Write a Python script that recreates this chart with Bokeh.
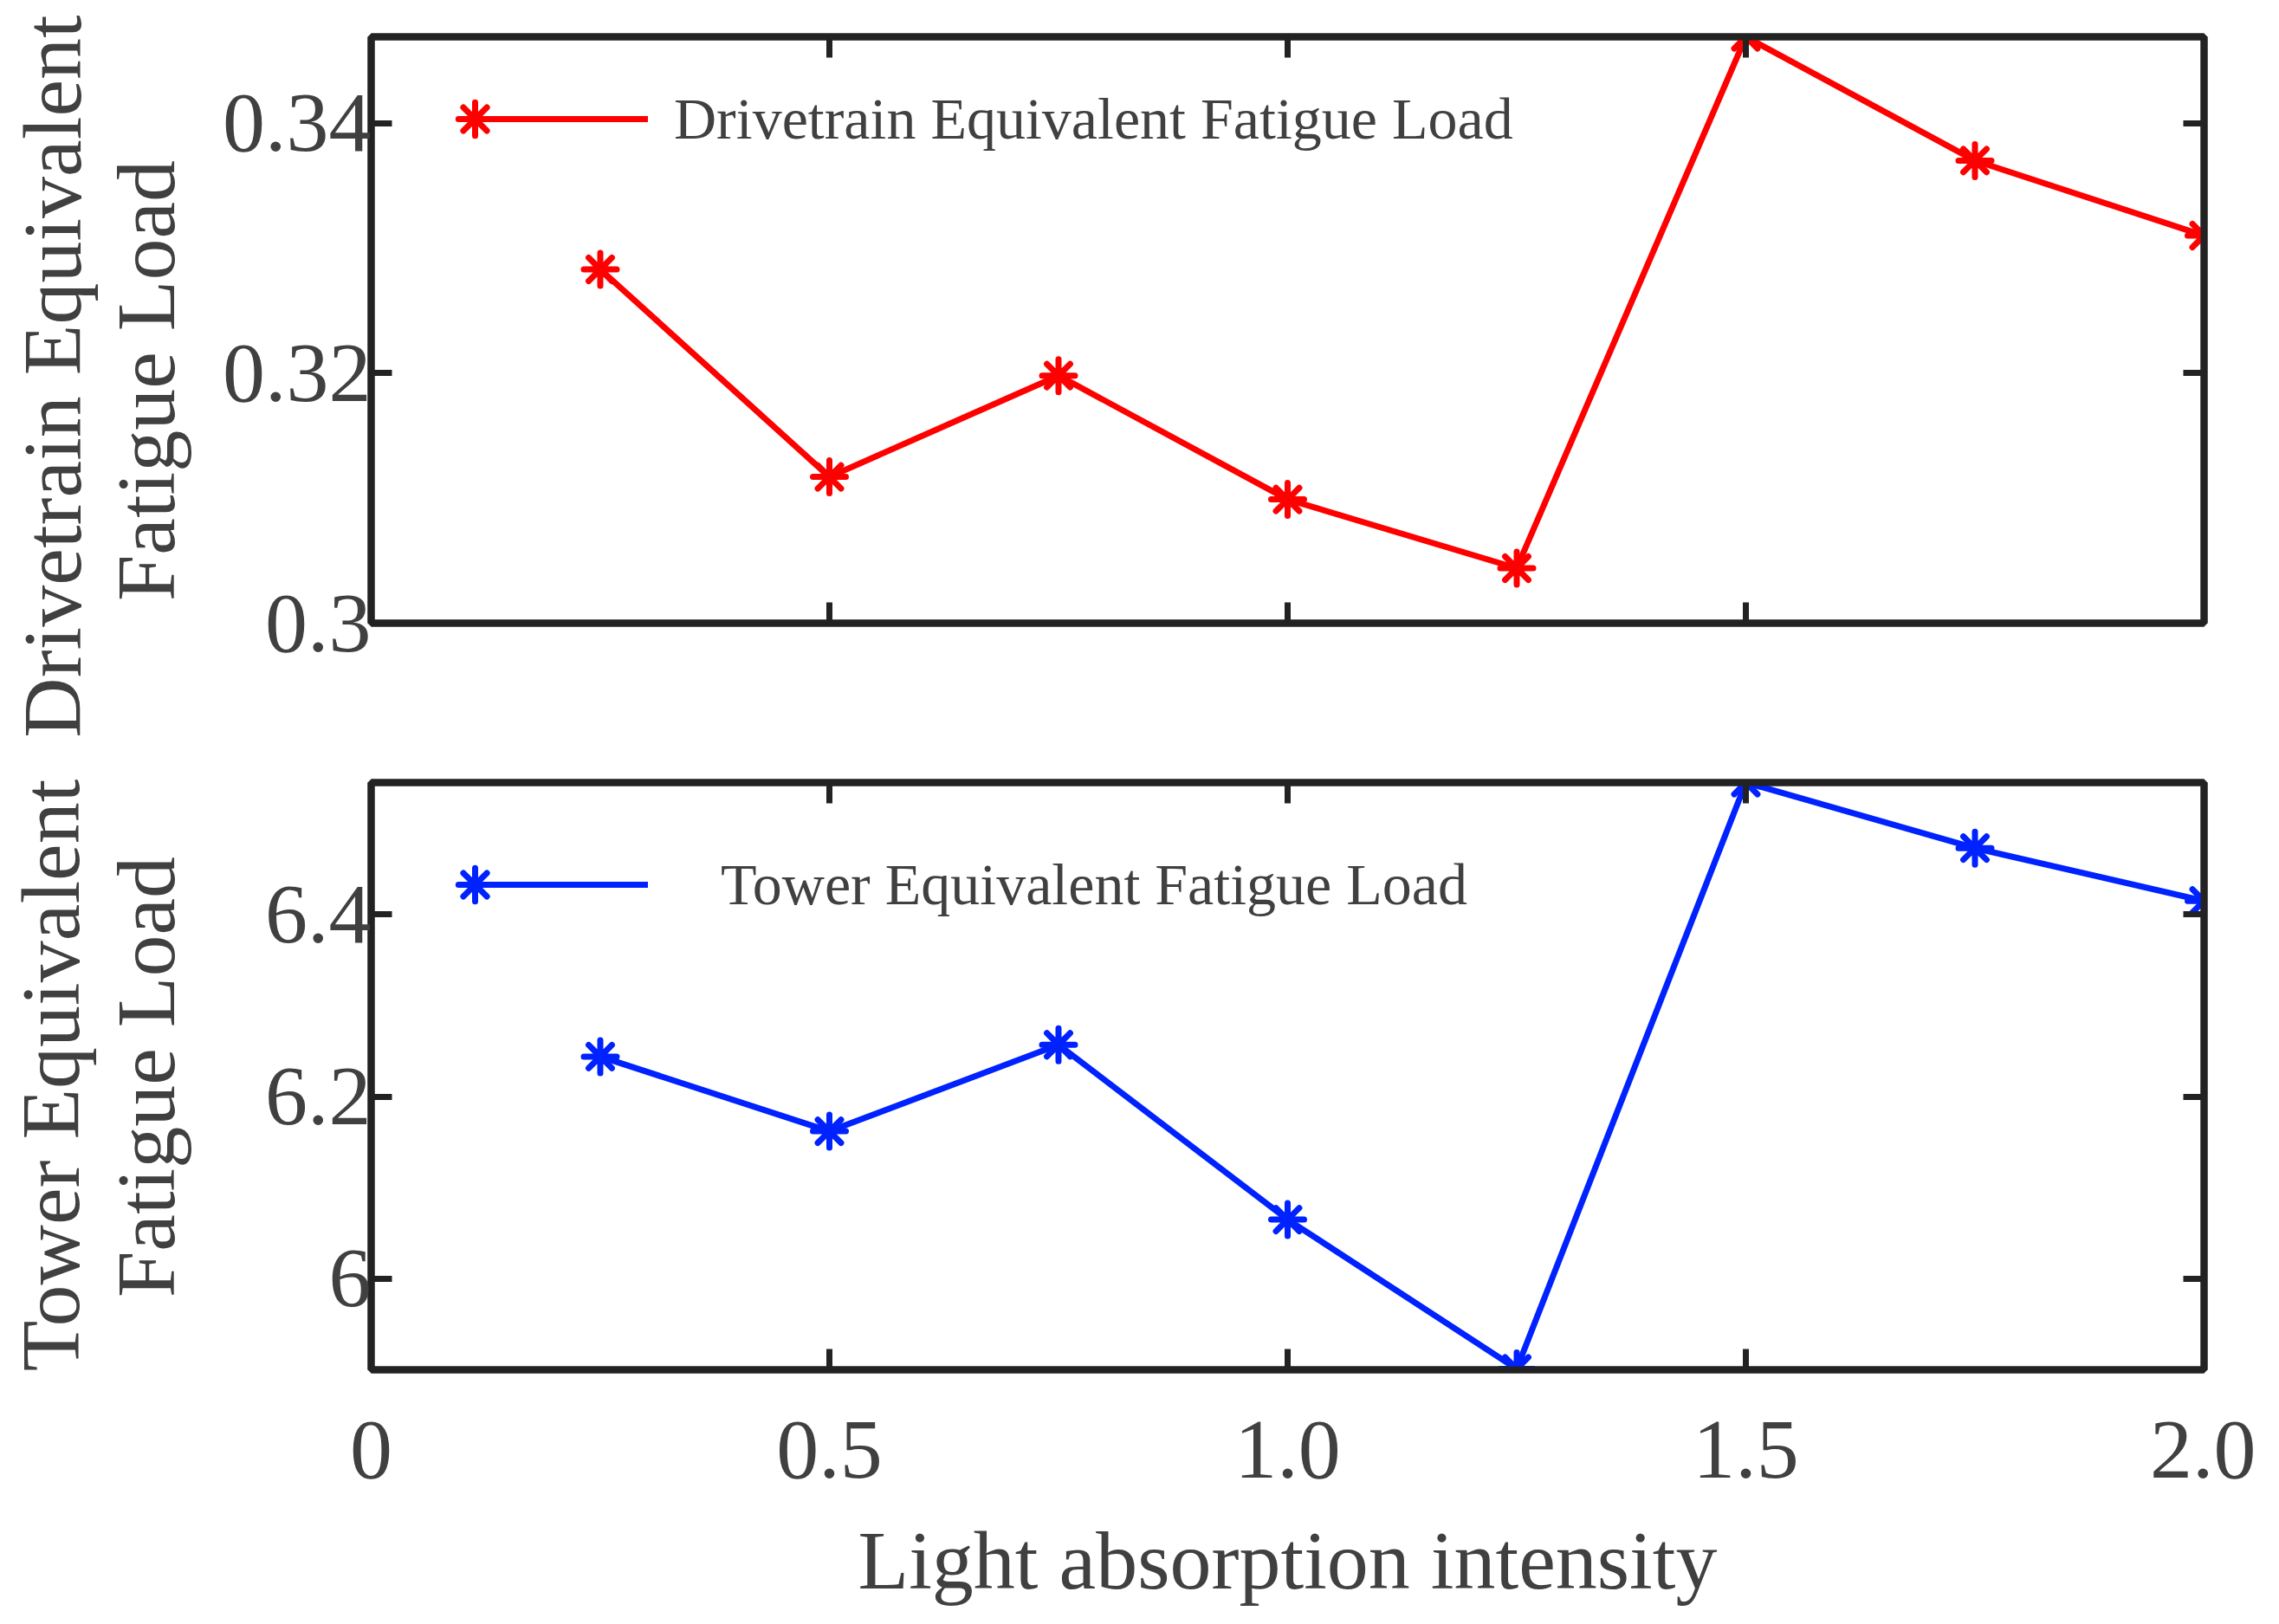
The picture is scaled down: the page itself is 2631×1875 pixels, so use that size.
import numpy as np
from bokeh.plotting import figure
from bokeh.models import LinearAxis, FixedTicker, Legend, LegendItem, Range1d
from bokeh.layouts import column, row
from bokeh.embed import file_html
from bokeh.resources import INLINE

# values
x_vals = [0.25, 0.5, 0.75, 1.0, 1.25, 1.5, 1.75, 2.0]
drivetrain_load = [0.3283, 0.3117, 0.3198, 0.3099, 0.3044, 0.3469, 0.3370, 0.3310]
tower_load = [6.244, 6.162, 6.257, 6.065, 5.901, 6.545, 6.473, 6.415]

x_ticks = [0, 0.5, 1.0, 1.5, 2.0]
x_tick_labels = {0: "0", 0.5: "0.5", 1.0: "1.0", 1.5: "1.5", 2.0: "2.0"}
top_ticks = [0.30, 0.32, 0.34]
top_tick_labels = {0.3: "0.3", 0.32: "0.32", 0.34: "0.34"}
bot_ticks = [6.0, 6.2, 6.4]
bot_tick_labels = {6: "6", 6.2: "6.2", 6.4: "6.4"}

y_titles = ["Drivetrain Equivalent", "Fatigue Load", "Tower Equivalent", "Fatigue Load"]

FONT = "Liberation Serif"
TEXT = "#404040"
AXIS = "#222222"
TOTAL_H = 1851
STRIP_W = 250


def panel(y_vals, y_lo, y_hi, y_ticks, y_labels, color, name,
          frame_h, border_top, border_bottom, label_gap, legend_y):
    p = figure(frame_width=2116, frame_height=frame_h,
               x_range=Range1d(0, 2), y_range=Range1d(y_lo, y_hi),
               toolbar_location=None, output_backend="svg",
               min_border_left=428 - STRIP_W, min_border_right=60,
               min_border_top=border_top, min_border_bottom=border_bottom)
    p.grid.visible = False
    p.outline_line_color = AXIS
    p.outline_line_width = 8
    p.add_layout(LinearAxis(), "right")
    p.add_layout(LinearAxis(), "above")

    for ax in p.axis:
        ax.axis_line_color = AXIS
        ax.axis_line_width = 8
        ax.major_tick_line_color = AXIS
        ax.major_tick_line_width = 7
        ax.major_tick_in = 24
        ax.major_tick_out = 0
        ax.minor_tick_line_color = None
        ax.major_label_text_font = FONT
        ax.major_label_text_color = None
        ax.major_label_text_font_size = "1px"
        ax.major_label_standoff = 0
    for ax in p.xaxis:
        ax.ticker = FixedTicker(ticks=x_ticks)
    for ax in p.yaxis:
        ax.ticker = FixedTicker(ticks=y_ticks)

    left = p.left[0]
    left.major_label_text_font_size = "98px"
    left.major_label_text_color = TEXT
    left.major_label_standoff = 0
    left.major_label_overrides = y_labels

    line_r = p.line(x_vals, y_vals, line_color=color, line_width=7)
    mark_r = p.scatter(x_vals, y_vals, marker="asterisk", size=38,
                       line_color=color, line_width=7, line_cap="round")

    leg_line = Legend(items=[LegendItem(label=name, renderers=[line_r])],
                      location=(120, legend_y), padding=0, margin=0,
                      glyph_width=200, glyph_height=96, label_height=96,
                      label_standoff=label_gap, border_line_color=None,
                      background_fill_alpha=0, label_text_font=FONT,
                      label_text_font_size="68px", label_text_color=TEXT)
    leg_mark = Legend(items=[LegendItem(label="", renderers=[mark_r])],
                      location=(72, legend_y), padding=0, margin=0,
                      glyph_width=96, glyph_height=96, label_height=96,
                      label_width=0, label_standoff=0, border_line_color=None,
                      background_fill_alpha=0, label_text_font_size="1px",
                      label_text_color=None)
    p.add_layout(leg_line)
    p.add_layout(leg_mark)
    return p


p1 = panel(drivetrain_load, 0.3, 0.3469, top_ticks, top_tick_labels, "#ff0000",
           "Drivetrain Equivalent Fatigue Load", 677, 42, 91, 30, 534)

p2 = panel(tower_load, 5.9, 6.545, bot_ticks, bot_tick_labels, "#0022ff",
           "Tower Equivalent Fatigue Load", 678, 93, 270, 84, 512)

bottom = p2.below[0]
bottom.major_label_text_font_size = "98px"
bottom.major_label_text_color = TEXT
bottom.major_label_standoff = 60
bottom.major_label_overrides = x_tick_labels
bottom.axis_label = "Light absorption intensity"
bottom.axis_label_text_font = FONT
bottom.axis_label_text_font_size = "96px"
bottom.axis_label_text_font_style = "normal"
bottom.axis_label_text_color = TEXT
bottom.axis_label_standoff = 39

# y titles sit in their own strip on the left, rotated
title_x = [60, 168, 58, 168]
title_y = [434, 439, 1241, 1243]
strip = figure(width=STRIP_W, height=TOTAL_H, x_range=Range1d(0, STRIP_W),
               y_range=Range1d(0, TOTAL_H), x_axis_type=None, y_axis_type=None,
               toolbar_location=None, output_backend="svg", min_border=0)
strip.grid.visible = False
strip.outline_line_color = None
strip.text(x=title_x, y=[TOTAL_H - v for v in title_y], text=y_titles,
           angle=np.pi / 2, text_align="center", text_baseline="alphabetic",
           text_font=FONT, text_font_size="96px", text_color=TEXT)

layout = row(strip, column(p1, p2))
open("out.html", "w").write(file_html(layout, INLINE))
